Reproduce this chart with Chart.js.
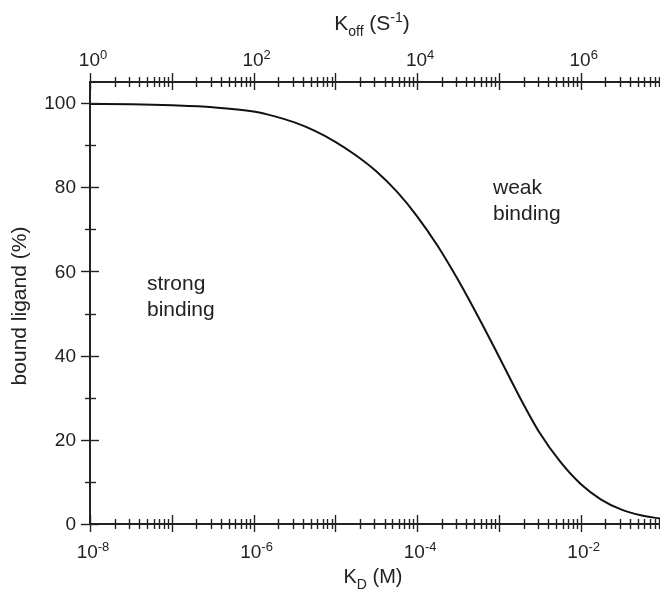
<!DOCTYPE html>
<html>
<head>
<meta charset="utf-8">
<script src="https://cdn.jsdelivr.net/npm/chart.js@4/dist/chart.umd.min.js"></script>
<style>
  html, body { margin: 0; padding: 0; background: #fff; overflow: hidden; }
  canvas { display: block; }
</style>
</head>
<body>
<canvas id="c" width="660" height="590"></canvas>
<script>
// Binding curve: fraction of ligand bound versus dissociation constant
const logKd = [-8, -7.5, -7, -6.5, -6, -5.75, -5.5, -5.25, -5, -4.75, -4.5, -4.25, -4, -3.75, -3.5, -3.25, -3, -2.75, -2.5, -2.25, -2, -1.75, -1.5, -1.25, -1.03];
const boundPct = [99.8, 99.7, 99.45, 99.0, 98.0, 96.9, 95.4, 93.4, 90.8, 87.6, 83.8, 79.0, 73.1, 66.1, 58.0, 49.1, 39.8, 30.3, 21.6, 14.8, 9.5, 5.8, 3.4, 2.0, 1.3];

// Axis ranges and labelled decades
const kdMin = 1e-8;
const kdMax = Math.pow(10, -1.03);
const koffPerKd = 1e8;            // k_off = k_on * K_D
const kdLabelExps = [-8, -6, -4, -2];
const koffLabelExps = [0, 2, 4, 6];
const yMajorTicks = [0, 20, 40, 60, 80, 100];
const yMinorTicks = [10, 30, 50, 70, 90];

const INK = '#222';
const FONT = '"Liberation Sans", Arial, Helvetica, sans-serif';

const points = logKd.map((e, i) => ({ x: Math.pow(10, e), y: boundPct[i] }));

// Draw a run of text parts; s: 1 = superscript, -1 = subscript
function richWidth(ctx, parts, size) {
  let w = 0;
  parts.forEach(p => {
    ctx.font = (p.s ? Math.round(size * 0.68) : size) + 'px ' + FONT;
    w += ctx.measureText(p.t).width;
  });
  return w;
}
function drawRich(ctx, parts, cx, baseline, size) {
  const w = richWidth(ctx, parts, size);
  let x = cx - w / 2;
  ctx.textAlign = 'left';
  ctx.textBaseline = 'alphabetic';
  parts.forEach(p => {
    const fs = p.s ? Math.round(size * 0.68) : size;
    ctx.font = fs + 'px ' + FONT;
    let y = baseline;
    if (p.s === 1) y -= size * 0.36;
    if (p.s === -1) y += size * 0.28;
    ctx.fillText(p.t, x, y);
    x += ctx.measureText(p.t).width;
  });
}

const axisDecor = {
  id: 'axisDecor',
  afterDraw(chart) {
    const ctx = chart.ctx;
    const area = chart.chartArea;
    const xs = chart.scales.x, xt = chart.scales.x2, ys = chart.scales.y;
    ctx.save();
    ctx.strokeStyle = INK;
    ctx.fillStyle = INK;
    ctx.lineWidth = 1.4;

    const seg = (x1, y1, x2, y2) => {
      ctx.beginPath(); ctx.moveTo(x1, y1); ctx.lineTo(x2, y2); ctx.stroke();
    };

    // log ticks on bottom and top axes
    const logTicks = (scale, lo, hi, yAxis) => {
      for (let d = lo; d <= hi; d++) {
        for (let k = 1; k <= 9; k++) {
          const v = k * Math.pow(10, d);
          if (v < scale.min * 0.999 || v > scale.max * 1.001) continue;
          const px = Math.round(scale.getPixelForValue(v)) + 0.5;
          if (k === 1) seg(px, yAxis - 9, px, yAxis + 8);
          else seg(px, yAxis - 5, px, yAxis + 5);
        }
      }
    };
    logTicks(xs, -8, -1, area.bottom);
    logTicks(xt, 0, 7, area.top);

    // linear ticks on the left axis
    yMajorTicks.forEach(v => {
      const py = Math.round(ys.getPixelForValue(v)) + 0.5;
      seg(area.left - 9, py, area.left + 9, py);
    });
    yMinorTicks.forEach(v => {
      const py = Math.round(ys.getPixelForValue(v)) + 0.5;
      seg(area.left - 5, py, area.left + 6, py);
    });

    // y tick labels
    ctx.font = '19px ' + FONT;
    ctx.textAlign = 'right';
    ctx.textBaseline = 'middle';
    yMajorTicks.forEach(v => {
      ctx.fillText(String(v), area.left - 14, ys.getPixelForValue(v) + 1);
    });

    // decade labels
    kdLabelExps.forEach(e => {
      drawRich(ctx, [{ t: '10' }, { t: String(e), s: 1 }], xs.getPixelForValue(Math.pow(10, e)) + 3, area.bottom + 34, 19);
    });
    koffLabelExps.forEach(e => {
      drawRich(ctx, [{ t: '10' }, { t: String(e), s: 1 }], xt.getPixelForValue(Math.pow(10, e)) + 3, area.top - 16, 19);
    });

    // axis titles
    const cx = (area.left + area.right) / 2;
    drawRich(ctx, [{ t: 'K' }, { t: 'D', s: -1 }, { t: ' (M)' }], cx - 2, 583, 20);
    drawRich(ctx, [{ t: 'K' }, { t: 'off', s: -1 }, { t: ' (S' }, { t: '-1', s: 1 }, { t: ')' }], cx - 3, 30, 21);

    ctx.save();
    ctx.translate(20, (area.top + area.bottom) / 2 + 3);
    ctx.rotate(-Math.PI / 2);
    ctx.font = '21px ' + FONT;
    ctx.textAlign = 'center';
    ctx.textBaseline = 'middle';
    ctx.fillText('bound ligand (%)', 0, 0);
    ctx.restore();

    // region annotations
    ctx.font = '21px ' + FONT;
    ctx.textAlign = 'left';
    ctx.textBaseline = 'alphabetic';
    ctx.fillText('strong', 147, 290);
    ctx.fillText('binding', 147, 316);
    ctx.fillText('weak', 493, 194);
    ctx.fillText('binding', 493, 220);
    ctx.restore();
  }
};

new Chart(document.getElementById('c'), {
  type: 'line',
  data: {
    datasets: [{
      data: points,
      borderColor: '#111',
      borderWidth: 2,
      pointRadius: 0,
      fill: false,
      cubicInterpolationMode: 'monotone'
    }]
  },
  options: {
    responsive: false,
    animation: false,
    layout: { padding: 0 },
    plugins: { legend: { display: false }, tooltip: { enabled: false } },
    scales: {
      x: {
        type: 'logarithmic', position: 'bottom', min: kdMin, max: kdMax,
        ticks: { display: false }, grid: { display: false },
        border: { color: INK, width: 2 },
        afterFit: s => { s.height = 66; }
      },
      x2: {
        type: 'logarithmic', position: 'top', min: kdMin * koffPerKd, max: kdMax * koffPerKd,
        ticks: { display: false }, grid: { display: false },
        border: { color: INK, width: 2 },
        afterFit: s => { s.height = 82; }
      },
      y: {
        type: 'linear', min: 0, max: 105,
        ticks: { display: false }, grid: { display: false },
        border: { color: INK, width: 2 },
        afterFit: s => { s.width = 90; }
      }
    }
  },
  plugins: [axisDecor]
});
</script>
</body>
</html>
